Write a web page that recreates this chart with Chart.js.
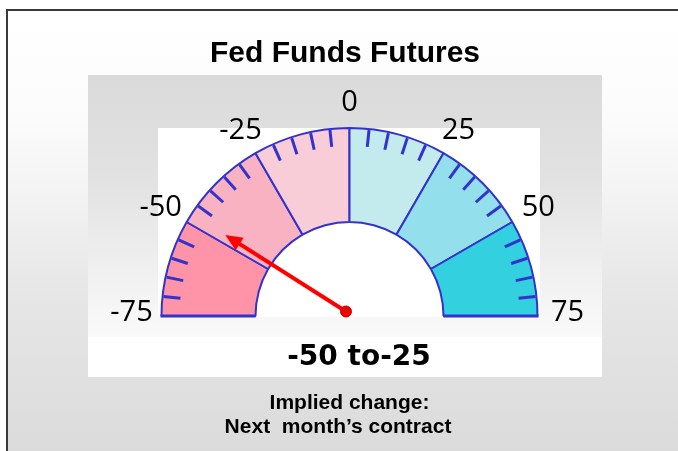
<!DOCTYPE html>
<html><head><meta charset="utf-8">
<script src="https://cdn.jsdelivr.net/npm/chart.js@4/dist/chart.umd.min.js"></script>
<style>html,body{margin:0;padding:0;background:#fff;overflow:hidden}canvas{display:block}</style>
</head><body>
<canvas id="c" width="678" height="451"></canvas>
<script>
// ---- data ----
const bandLabels = ['-75 to -50', '-50 to -25', '-25 to 0', '0 to 25', '25 to 50', '50 to 75'];
const bandValues = [25, 25, 25, 25, 25, 25];
const scaleLabels = [-75, -50, -25, 0, 25, 50, 75];
const minorTicks = [-70, -65, -60, -55, -45, -40, -35, -30, -20, -15, -10, -5,
                    5, 10, 15, 20, 30, 35, 40, 45, 55, 60, 65, 70];
const needleValue = -48;
const rangeText = '-50 to-25';
const titleText = 'Fed Funds Futures';
const footLines = ['Implied change:', 'Next  month\u2019s contract'];
const scaleMin = -75, scaleMax = 75;

// ---- styles ----
const bandColors = ['#FF93A8', '#F9B2C1', '#F9CDD8', '#C3EBEE', '#93E0EC', '#33D0DF'];
const edgeColor = '#3333CC';

function valueAngle(meta, v) {
  const a0 = meta.data[0].startAngle;
  const a1 = meta.data[meta.data.length - 1].endAngle;
  return a0 + (v - scaleMin) / (scaleMax - scaleMin) * (a1 - a0);
}

const decor = {
  id: 'decor',
  beforeDraw(chart) {
    const ctx = chart.ctx;
    ctx.save();
    // page background
    ctx.fillStyle = '#ffffff';
    ctx.fillRect(0, 0, 678, 451);
    let g = ctx.createLinearGradient(0, 10, 0, 451);
    g.addColorStop(0, '#ffffff');
    g.addColorStop(0.25, '#fbfbfb');
    g.addColorStop(0.4, '#f4f4f4');
    g.addColorStop(0.65, '#e6e6e6');
    g.addColorStop(1, '#dbdbdb');
    ctx.fillStyle = g;
    ctx.fillRect(7, 10, 671, 441);
    // frame
    ctx.strokeStyle = '#3a3a3a';
    ctx.lineWidth = 2;
    ctx.beginPath();
    ctx.moveTo(7, 451);
    ctx.lineTo(7, 10);
    ctx.lineTo(678, 10);
    ctx.stroke();
    // gauge panel
    g = ctx.createLinearGradient(0, 75, 0, 337);
    g.addColorStop(0, '#dadada');
    g.addColorStop(0.4, '#e2e2e2');
    g.addColorStop(1, '#fafafa');
    ctx.fillStyle = g;
    ctx.fillRect(88, 75, 514, 262);
    ctx.fillStyle = '#ffffff';
    ctx.fillRect(158, 128, 382, 189);
    ctx.fillRect(88, 337, 514, 40);
    ctx.restore();
  },
  afterDatasetsDraw(chart) {
    const ctx = chart.ctx;
    const meta = chart.getDatasetMeta(0);
    const arc = meta.data[0];
    const cx = arc.x, cy = arc.y, R = arc.outerRadius, r = arc.innerRadius;
    ctx.save();
    // base line
    ctx.strokeStyle = edgeColor;
    ctx.lineWidth = 3;
    ctx.beginPath();
    ctx.moveTo(cx - R - 1, cy); ctx.lineTo(cx - r, cy);
    ctx.moveTo(cx + r, cy); ctx.lineTo(cx + R + 1, cy);
    ctx.stroke();
    // minor ticks
    ctx.lineWidth = 3;
    ctx.lineCap = 'butt';
    minorTicks.forEach(v => {
      const a = valueAngle(meta, v);
      ctx.beginPath();
      ctx.moveTo(cx + (R - 1) * Math.cos(a), cy + (R - 1) * Math.sin(a));
      ctx.lineTo(cx + (R - 18) * Math.cos(a), cy + (R - 18) * Math.sin(a));
      ctx.stroke();
    });
    // scale labels
    ctx.fillStyle = '#000';
    ctx.font = '29px "Open Sans"';
    ctx.textAlign = 'center';
    ctx.textBaseline = 'middle';
    scaleLabels.forEach(v => {
      const a = valueAngle(meta, v);
      ctx.fillText(String(v), cx + 218 * Math.cos(a), cy - 3 + 210 * Math.sin(a));
    });
    // needle
    const a = valueAngle(meta, needleValue);
    const px = cx - 3.5, py = cy - 4.5;
    const L = 143, head = 17, hw = 7.5;
    const tx = px + L * Math.cos(a), ty = py + L * Math.sin(a);
    const bx = px + (L - head) * Math.cos(a), by = py + (L - head) * Math.sin(a);
    ctx.strokeStyle = '#FF0000';
    ctx.fillStyle = '#FF0000';
    ctx.lineWidth = 4;
    ctx.beginPath();
    ctx.moveTo(px, py); ctx.lineTo(bx + 2 * Math.cos(a), by + 2 * Math.sin(a));
    ctx.stroke();
    ctx.beginPath();
    ctx.moveTo(tx, ty);
    ctx.lineTo(bx - hw * Math.sin(a), by + hw * Math.cos(a));
    ctx.lineTo(bx + hw * Math.sin(a), by - hw * Math.cos(a));
    ctx.closePath();
    ctx.fill();
    ctx.beginPath();
    ctx.arc(px, py, 5.5, 0, Math.PI * 2);
    ctx.fillStyle = '#EE0000';
    ctx.fill();
    ctx.lineWidth = 1;
    ctx.strokeStyle = '#CC0000';
    ctx.stroke();
    // range text
    ctx.fillStyle = '#000';
    ctx.font = 'bold 28px "DejaVu Sans"';
    ctx.textBaseline = 'alphabetic';
    ctx.fillText(rangeText, 359, 365);
    // title
    ctx.font = 'bold 30px "Liberation Sans"';
    ctx.fillText(titleText, 345, 62);
    // footer
    ctx.font = 'bold 21px "Liberation Sans"';
    ctx.fillText(footLines[0], 349.5, 409);
    ctx.fillText(footLines[1], 338, 433);
    ctx.restore();
  }
};

new Chart(document.getElementById('c'), {
  type: 'doughnut',
  data: {
    labels: bandLabels,
    datasets: [{
      data: bandValues,
      backgroundColor: bandColors,
      borderColor: edgeColor,
      borderWidth: 2,
      hoverOffset: 0
    }]
  },
  options: {
    responsive: false,
    animation: false,
    rotation: -90,
    circumference: 180,
    cutout: '50%',
    radius: 188,
    layout: { padding: { left: 150, right: 129, top: 128, bottom: 135 } },
    plugins: { legend: { display: false }, tooltip: { enabled: false } },
    events: []
  },
  plugins: [decor]
});
</script>
</body></html>
